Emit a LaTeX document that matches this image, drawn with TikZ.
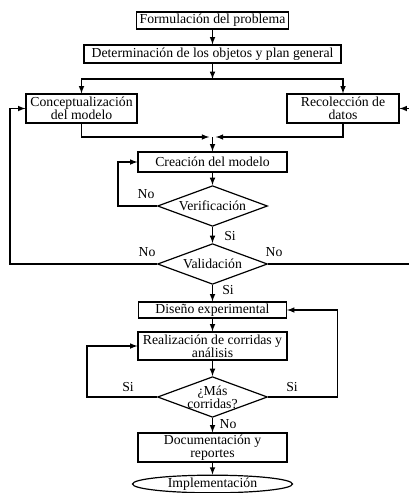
\documentclass[tikz,border=0pt]{standalone}
\usepackage{fontspec}
\setmainfont{Liberation Serif}
\usetikzlibrary{shapes.geometric, arrows}
\tikzstyle{process} =[rectangle, minimum width=111.75pt, minimum height=21.75pt, inner sep=0pt, text centered, align=center, draw=black, line width=0.9pt, font=\fontsize{10.3}{9.5}\selectfont]
\tikzstyle{decision} =[diamond, aspect=2.7, minimum width=82.5pt, minimum height=30.5pt, inner sep=-1pt, text centered, align=center, draw=black, line width=0.9pt, font=\fontsize{10.3}{9.5}\selectfont]
\tikzstyle{startstop} =[ellipse, minimum width=120pt, minimum height=12.75pt, inner sep=0pt, text centered, draw=black, line width=0.9pt, font=\fontsize{10.3}{10}\selectfont]
\tikzstyle{answer} =[inner sep=0pt, font=\fontsize{10.3}{10}\selectfont]
\tikzstyle{arrow} =[line width=0.9pt,->,>=latex]

\begin{document}
\begin{tikzpicture}[x=0.75pt, y=-0.75pt]
\useasboundingbox (0,0) rectangle (408,493);
\node (form) [process, minimum width=114pt, minimum height=12.75pt] at (212.5,20.5) {Formulación del problema};
\node (det) [process, minimum width=192.75pt, minimum height=13.5pt] at (212.5,54) {Determinación de los objetos y plan general};
\node (concept) [process, minimum width=83.25pt] at (81.5,108.5) {Conceptualización\\del modelo};
\node (recol) [process, minimum width=84pt] at (343,108.5) {Recolección de\\datos};
\node (crea) [process, minimum height=15pt] at (212.5,162) {Creación del modelo};
\node (verif) [decision] at (212.5,206) {Verificación};
\node (valid) [decision] at (212.5,264) {Validación};
\node (dis) [process, minimum width=111pt, minimum height=12pt] at (212.5,310) {Diseño experimental};
\node (real) [process, minimum height=21pt] at (212.5,346) {Realización de corridas y\\análisis};
\node (mas) [decision] at (212.5,397) {¿Más\\corridas?};
\node (doc) [process] at (212.5,447.5) {Documentación y\\reportes};
\node (impl) [startstop] at (212.5,484) {Implementación};
\coordinate (split) at (212.5,79);
\coordinate (merge) at (212.5,137);

\node (no1) [answer] at (146,194) {No};
\node (si1) [answer] at (230,236) {Si};
\node (no2) [answer] at (147,252) {No};
\node (no3) [answer] at (274,252) {No};
\node (si2) [answer] at (228,290) {Si};
\node (si3) [answer] at (128,387) {Si};
\node (si4) [answer] at (292,387) {Si};
\node (no4) [answer] at (228,424) {No};

\draw [arrow] (form)--(det);
\draw [arrow] (det)--(split);
\draw [arrow] (split)-|(concept);
\draw [arrow] (split)-|(recol);
\draw [arrow] (concept.south)|-([xshift=-2.5pt]merge);
\draw [arrow] (recol.south)|-([xshift=2.5pt]merge);
\draw [arrow] (merge)--(crea);
\draw [arrow] (crea)--(verif);
\draw [arrow] (verif.west)--++(-39,0)|-(crea.west);
\draw [arrow] (verif)--(valid);
\draw [arrow] (valid.west)--++(-147,0)|-(concept.west);
\draw [arrow] (valid.east)--++(143,0)|-(recol.east);
\draw [arrow] (valid)--(dis);
\draw [arrow] (dis)--(real);
\draw [arrow] (real)--(mas);
\draw [arrow] (mas.west)--++(-70,0)|-(real.west);
\draw [arrow] (mas.east)--++(69,0)|-(dis.east);
\draw [arrow] (mas)--(doc);
\draw [arrow] (doc)--(impl);
\end{tikzpicture}
\end{document}
